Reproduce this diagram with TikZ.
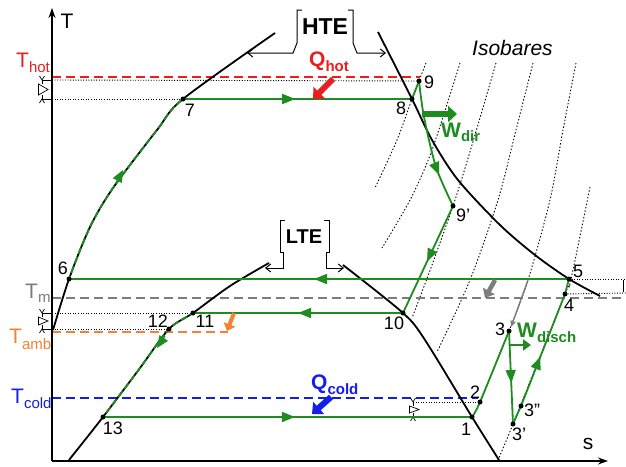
\documentclass[tikz,border=0pt]{standalone}
\usepackage{fontspec}
\setmainfont{Liberation Sans}
\usetikzlibrary{arrows.meta,decorations.markings}
\definecolor{cgreen}{RGB}{30,140,30}
\definecolor{cred}{RGB}{235,30,30}
\definecolor{cblue}{RGB}{20,30,235}
\definecolor{corange}{RGB}{245,130,50}
\definecolor{cgray}{RGB}{125,125,125}
\newcommand{\fs}[1]{\fontsize{#1}{#1}\selectfont}
\newcommand{\vlv}[3]{%
  \draw[line width=0.7pt] (#1,#2) -- (#1,#2+4) (#1,#3-4) -- (#1,#3);
  \draw[line width=0.7pt] (#1-2.5,#2-4) -- (#1,#2) -- (#1+2.5,#2-4);
  \draw[line width=0.7pt] (#1-2.5,#3+4) -- (#1,#3) -- (#1+2.5,#3+4);
  \draw[line width=0.7pt, fill=white] (#1-3.5,#2+4) -- (#1-3.5,#3-4) -- (#1+6,#2/2+#3/2) -- cycle;}
\begin{document}
\begin{tikzpicture}[x=1pt,y=-1pt,
  dome/.style={line width=1.8pt},
  cyc/.style={line width=1.8pt, draw=cgreen},
  ovl/.style={line width=1.8pt, draw=cgreen, dash pattern=on 7pt off 3pt},
  iso/.style={line width=0.9pt, dash pattern=on 1.4pt off 2pt},
  guide/.style={line width=0.9pt, dash pattern=on 1pt off 1.6pt},
  tline/.style={line width=1.8pt, dash pattern=on 9pt off 5pt},
  dot/.style={circle, fill=black, inner sep=0pt, minimum size=5pt},
  num/.style={font=\fs{18}, inner sep=0pt},
  midarrow/.style={postaction={decorate}, decoration={markings, mark=at position #1 with {\arrow{Triangle[length=13pt,width=10pt]}}}},
  heat/.style={line width=6pt, -{Triangle[length=9pt,width=16pt]}},
]
\useasboundingbox (0,0) rectangle (626,466);
\fill[white] (0,0) rectangle (626,466);

% key points
\coordinate (p1) at (472,417);
\coordinate (p2) at (480,402);
\coordinate (p3) at (509,331);
\coordinate (p3a) at (513,424);
\coordinate (p3b) at (521,406);
\coordinate (p4) at (565,294);
\coordinate (p5) at (569,279);
\coordinate (p6) at (69,279);
\coordinate (p7) at (183,99);
\coordinate (p8) at (412,99);
\coordinate (p9) at (419,81);
\coordinate (p9a) at (453,206);
\coordinate (p10) at (403,313);
\coordinate (p11) at (193,313);
\coordinate (p12) at (169,329);
\coordinate (p13) at (103,417);

% isobars
\draw[iso] plot[smooth] coordinates {(426,63)(412,99)(397,140)(375,188)};
\draw[iso] plot[smooth] coordinates {(460,63)(432,150)(410,200)(382,248)};
\draw[iso] plot[smooth] coordinates {(496,63)(472,145)(455,200)(432,265)(412,318)};
\draw[iso] plot[smooth] coordinates {(533,63)(516,130)(498,200)(470,280)(437,352)};
\draw[iso] plot[smooth] coordinates {(576,63)(563,130)(550,200)(528,280)(p3)(p2)(p1)};
\draw[iso] plot[smooth] coordinates {(590,187)(571,279)(p4)(p3a)(498,460)};

% temperature lines and guides
\draw[tline, cred] (52,77) -- (420,77);
\draw[guide] (52,80) -- (p9);
\draw[guide] (52,99) -- (p7);
\draw[tline, cgray] (52,298) -- (626,298);
\draw[guide] (52,313) -- (p11);
\draw[guide] (52,329) -- (p12);
\draw[tline, corange] (52,332) -- (228,332);
\draw[tline, cblue] (52,398) -- (478,398);
\draw[guide] (413,402) -- (p2);
\draw[guide] (p5) -- (626,279);
\draw[guide] (p4) -- (626,293);
\draw[line width=0.7pt] (623.5,280) -- (623.5,292);
\draw[line width=0.7pt] (42,80) -- (52,80) (42,99) -- (52,99) (42,313) -- (52,313) (42,329) -- (52,329);
\vlv{42}{80}{99}
\vlv{42}{313}{329}
\vlv{413}{402}{417}

% axes
\draw[line width=1.5pt, -{Stealth[length=10pt,width=7pt]}] (52,461) -- (52,8);
\draw[line width=1.5pt, -{Stealth[length=10pt,width=7pt]}] (52,461) -- (608,461);
\node[font=\fs{21}, inner sep=0pt] (lT) at (67,21) {T};
\node[font=\fs{21}, inner sep=0pt] (ls) at (588,444) {s};

% domes
\draw[dome] plot[smooth] coordinates {(53,330)(p6)(90,227)(113,188)(157,130)(p7)(275,33)};
\draw[dome] plot[smooth] coordinates {(378,32)(p8)(432,140)(458,180)(500,225)(535,255)(p5)(600,296)};
\draw[dome] plot[smooth] coordinates {(69,460)(p13)(140,368)(p12)(p11)(230,286)(269,263)};
\draw[dome] plot[smooth] coordinates {(343,265)(p10)(425,340)(p1)(499,460)};

% green overlays on saturated liquid lines
\begin{scope}
\clip (0,99) rectangle (300,279);
\draw[ovl] plot[smooth] coordinates {(53,330)(p6)(90,227)(113,188)(157,130)(p7)(275,33)};
\end{scope}
\begin{scope}
\clip (0,313) rectangle (300,417);
\draw[ovl] plot[smooth] coordinates {(69,460)(p13)(140,368)(p12)(p11)(230,286)(269,263)};
\end{scope}
\draw[cgreen, line width=1.2pt, -{Triangle[length=12pt,width=10pt]}] (116,183) -- (123,170);
\draw[cgreen, line width=1.2pt, -{Triangle[length=12pt,width=10pt]}] (165,336) -- (157,348);

% cycle
\draw[cyc, midarrow=0.52] (p13) -- (p1);
\draw[cyc] plot[smooth] coordinates {(p1)(p2)(p3)};
\draw[cyc, midarrow=0.56] (p3) -- (p3a);
\draw[cyc, midarrow=0.52] (p3a) -- (p3b) -- (p4);
\draw[cyc] (p4) -- (p5);
\draw[cyc, midarrow=0.51] (p5) -- (p6);
\draw[cyc, midarrow=0.49] (p7) -- (p8);
\draw[cyc] (p8) -- (p9);
\draw[cyc, midarrow=0.74] plot[smooth] coordinates {(p9)(424,117)(436,167)(p9a)};
\draw[cyc, midarrow=0.52] (p9a) -- (p10);
\draw[cyc, midarrow=0.5] (p10) -- (p11);

% heat / work arrows
\draw[heat, cred] (333,79) -- (313,99);
\draw[heat, cblue] (331,397) -- (312,414);
\draw[heat, cgreen] (422,114) -- (457,114);
\draw[cgreen, line width=2.5pt, -{Triangle[length=8pt,width=11pt]}] (510,345) -- (531,345);
\draw[corange, line width=4pt, -{Triangle[length=7pt,width=12pt]}] (234,313) -- (227,331);
\draw[cgray, line width=4.5pt, -{Triangle[length=8pt,width=13pt]}] (495,280) -- (485,298);
\draw[cgray, line width=1.4pt, -{Stealth[length=7pt,width=6pt]}] (528,280) -- (511,327);

% dots
\foreach \p in {1,2,3,3a,3b,4,5,6,7,8,9,9a,10,11,12,13}
  \node[dot] (d\p) at (p\p) {};

% point numbers
\node[num] (n7) at (190,110) {7};
\node[num] (n8) at (401,108) {8};
\node[num] (n9) at (429,82) {9};
\node[num] (n9a) at (463,215) {9'};
\node[num] (n6) at (63,268) {6};
\node[num] (n5) at (578,271) {5};
\node[num] (n4) at (569,305) {4};
\node[num] (n3) at (500,329) {3};
\node[num] (n3b) at (532,410) {3''};
\node[num] (n3a) at (519,434) {3'};
\node[num] (n2) at (475,392) {2};
\node[num] (n1) at (466,429) {1};
\node[num] (n10) at (394,323) {10};
\node[num] (n11) at (205,321) {11};
\node[num] (n12) at (158,321) {12};
\node[num] (n13) at (113,428) {13};

% temperature labels
\node[anchor=base west, inner sep=0pt, text=cred] (Thot) at (16,67) {\fs{21}T\fs{15}\raisebox{-5pt}{hot}};
\node[anchor=base west, inner sep=0pt, text=cgray] (Tm) at (25,298) {\fs{21}T\fs{15}\raisebox{-4pt}{m}};
\node[anchor=base west, inner sep=0pt, text=corange] (Tamb) at (9,343) {\fs{21}T\fs{15}\raisebox{-6pt}{amb}};
\node[anchor=base west, inner sep=0pt, text=cblue] (Tcold) at (11,403) {\fs{21}T\fs{15}\raisebox{-5pt}{cold}};

% Q / W labels
\node[anchor=base west, inner sep=0pt, text=cred, font=\bfseries] (Qhot) at (309,66) {\fs{21}Q\fs{15}\raisebox{-5pt}{hot}};
\node[anchor=base west, inner sep=0pt, text=cblue, font=\bfseries] (Qcold) at (311,389) {\fs{21}Q\fs{15}\raisebox{-5pt}{cold}};
\node[anchor=base west, inner sep=0pt, text=cgreen, font=\bfseries] (Wdir) at (441,137) {\fs{21}W\fs{15}\raisebox{-4pt}{dir}};
\node[anchor=base west, inner sep=0pt, text=cgreen, font=\bfseries] (Wdisch) at (517,337) {\fs{21}W\fs{15}\raisebox{-5pt}{disch}};
\node[anchor=base west, inner sep=0pt, font=\itshape\fs{21}] (iso) at (472,55) {Isobares};

% HTE / LTE brackets
\node[font=\bfseries\fs{23}, inner sep=0pt] (HTE) at (325,27) {HTE};
\draw[line width=1pt, -{Straight Barb[length=5pt,width=8pt]}] (302,10) -- (297,10) -- (297,43) -- (293,53) -- (247,53);
\draw[line width=1pt, -{Straight Barb[length=5pt,width=8pt]}] (348,10) -- (353,10) -- (353,43) -- (357,53) -- (386,53);
\node[font=\bfseries\fs{20}, inner sep=0pt] (LTE) at (304,237) {LTE};
\draw[line width=1pt, -{Straight Barb[length=5pt,width=8pt]}] (285,220) -- (280,220) -- (280,252) -- (283,252) -- (283,268) -- (265,268);
\draw[line width=1pt, -{Straight Barb[length=5pt,width=8pt]}] (324,220) -- (329,220) -- (329,252) -- (326,252) -- (326,268) -- (344,268);
\end{tikzpicture}
\end{document}
